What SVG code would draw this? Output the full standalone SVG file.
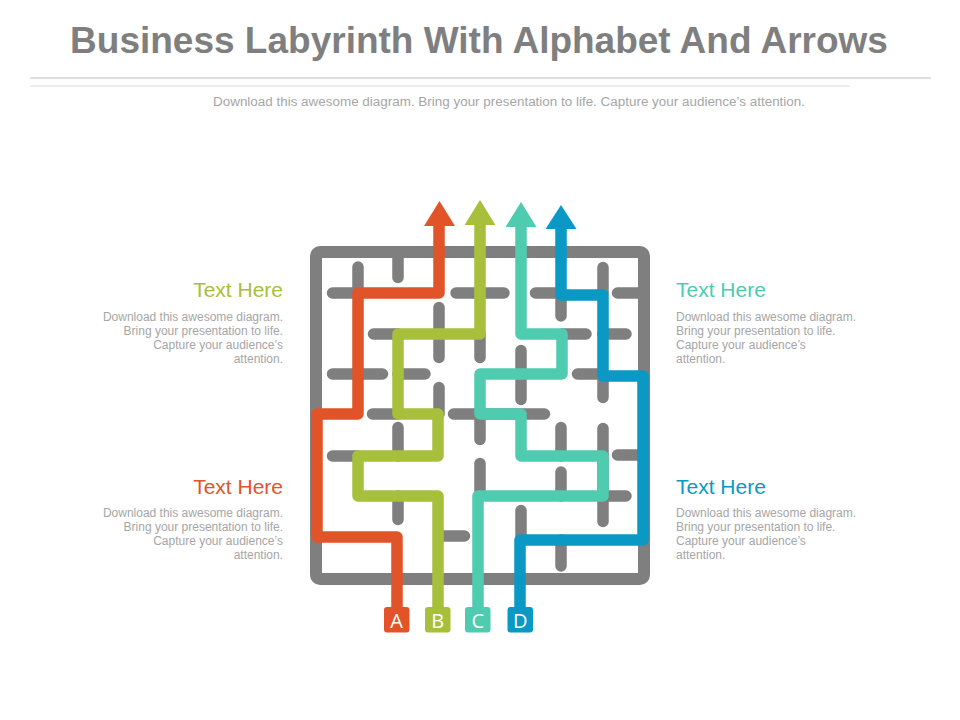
<svg xmlns="http://www.w3.org/2000/svg" width="960" height="720" viewBox="0 0 960 720">
<style>
.wall{stroke:#7F7F7F;stroke-width:11.5;stroke-linecap:round;fill:none}
.frame{stroke:#7F7F7F;stroke-width:12;fill:none}
.route{stroke-width:11.5;fill:none;stroke-linejoin:round;stroke-linecap:butt}
.red{stroke:#E1542A}.grn{stroke:#A7C03C}.tea{stroke:#4FCBB0}.blu{stroke:#0A98C5}
.fred{fill:#E1542A}.fgrn{fill:#A7C03C}.ftea{fill:#4FCBB0}.fblu{fill:#0A98C5}
.title{font-family:"Liberation Sans",Arial,sans-serif;font-weight:bold;font-size:37px;fill:#7F7F7F}
.sub{font-family:"Liberation Sans",Arial,sans-serif;font-size:12px;fill:#A6A6A6}
.head{font-family:"Liberation Sans",Arial,sans-serif;font-size:21px}
.body{font-family:"Liberation Sans",Arial,sans-serif;font-size:12px;fill:#A6A6A6}
.lbl{font-family:"Open Sans","Liberation Sans",sans-serif;font-size:20px;fill:#FFFFFF;text-anchor:middle}
</style>
<rect width="960" height="720" fill="#FFFFFF"/>
<g id="header">
<text class="title" x="479" y="53" text-anchor="middle">Business Labyrinth With Alphabet And Arrows</text>
<line x1="30" y1="78" x2="931" y2="78" stroke="#BFBFBF" stroke-width="1"/>
<line x1="30" y1="86" x2="850" y2="86" stroke="#D9D9D9" stroke-width="1"/>
<text class="sub" x="509" y="106" text-anchor="middle" textLength="592" lengthAdjust="spacingAndGlyphs">Download this awesome diagram. Bring your presentation to life.  Capture your audience’s attention.</text>
</g>
<g id="maze">
<rect class="frame" x="316" y="252" width="328" height="327" rx="4"/>
<line class="wall" x1="358" y1="267" x2="358" y2="293"/>
<line class="wall" x1="398" y1="252" x2="398" y2="277.5"/>
<line class="wall" x1="332.5" y1="293" x2="358" y2="293"/>
<line class="wall" x1="456" y1="293" x2="504" y2="293"/>
<line class="wall" x1="439" y1="307.5" x2="439" y2="357.5"/>
<line class="wall" x1="373.5" y1="334" x2="398" y2="334"/>
<line class="wall" x1="332.5" y1="374" x2="382.5" y2="374"/>
<line class="wall" x1="398" y1="374" x2="425" y2="374"/>
<line class="wall" x1="439" y1="387.5" x2="439" y2="414"/>
<line class="wall" x1="480" y1="334" x2="480" y2="357.5"/>
<line class="wall" x1="372.5" y1="414" x2="398" y2="414"/>
<line class="wall" x1="453.5" y1="414" x2="544.5" y2="414"/>
<line class="wall" x1="398" y1="427.5" x2="398" y2="456"/>
<line class="wall" x1="332.5" y1="456" x2="358" y2="456"/>
<line class="wall" x1="398" y1="496" x2="398" y2="519.5"/>
<line class="wall" x1="439" y1="536" x2="464.5" y2="536"/>
<line class="wall" x1="480" y1="463.5" x2="480" y2="496"/>
<line class="wall" x1="480" y1="414" x2="480" y2="439.5"/>
<line class="wall" x1="535.5" y1="293" x2="561" y2="293"/>
<line class="wall" x1="561" y1="293" x2="561" y2="316"/>
<line class="wall" x1="603" y1="267.5" x2="603" y2="293"/>
<line class="wall" x1="617.5" y1="293" x2="644" y2="293"/>
<line class="wall" x1="562" y1="334" x2="586" y2="334"/>
<line class="wall" x1="603" y1="334" x2="626" y2="334"/>
<line class="wall" x1="521" y1="350.5" x2="521" y2="399.5"/>
<line class="wall" x1="577.5" y1="374" x2="603" y2="374"/>
<line class="wall" x1="603" y1="374" x2="603" y2="397.5"/>
<line class="wall" x1="561" y1="427.5" x2="561" y2="456"/>
<line class="wall" x1="561" y1="472" x2="561" y2="496"/>
<line class="wall" x1="561" y1="540" x2="561" y2="566"/>
<line class="wall" x1="603" y1="428.5" x2="603" y2="521.5"/>
<line class="wall" x1="617.5" y1="455" x2="644" y2="455"/>
<line class="wall" x1="603" y1="496" x2="626" y2="496"/>
<line class="wall" x1="521" y1="510.5" x2="521" y2="540"/>
</g>
<g id="connectors">
<path class="route red" d="M397 610 V537 H317 V414 H358 V293 H439 V222"/>
<path class="route grn" d="M438 610 V496 H358 V456 H438 V414 H398 V334 H480 V221"/>
<path class="route tea" d="M478 610 V496 H603 V456 H521 V414 H480 V374 H562 V334 H521 V223"/>
<path class="route blu" d="M520 610 V540 H643 V376 H603 V295 H561 V225"/>
<polygon class="fred" points="424,226 455,226 439.5,201"/>
<polygon class="fgrn" points="464.5,225 495.5,225 480,200"/>
<polygon class="ftea" points="505.5,227 536.5,227 521,202"/>
<polygon class="fblu" points="545.5,229 576.5,229 561,205"/>
</g>
<g id="label-a"><rect class="fred" x="384" y="607" width="25.5" height="25.5" rx="3"/><text class="lbl" x="396.7" y="627.5">A</text></g>
<g id="label-b"><rect class="fgrn" x="425" y="607" width="25.5" height="25.5" rx="3"/><text class="lbl" x="437.7" y="627.5">B</text></g>
<g id="label-c"><rect class="ftea" x="465" y="607" width="25.5" height="25.5" rx="3"/><text class="lbl" x="477.7" y="627.5">C</text></g>
<g id="label-d"><rect class="fblu" x="507.5" y="607" width="25.5" height="25.5" rx="3"/><text class="lbl" x="520.2" y="627.5">D</text></g>
<g id="text-top-left" text-anchor="end">
<text class="head" x="283" y="297" fill="#A7C03C">Text Here</text>
<text class="body" x="283" y="321">Download this awesome diagram.</text>
<text class="body" x="283" y="335">Bring your presentation to life.</text>
<text class="body" x="283" y="349">Capture your audience’s</text>
<text class="body" x="283" y="363">attention.</text>
</g>
<g id="text-bottom-left" text-anchor="end">
<text class="head" x="283" y="494" fill="#E1542A">Text Here</text>
<text class="body" x="283" y="517">Download this awesome diagram.</text>
<text class="body" x="283" y="531">Bring your presentation to life.</text>
<text class="body" x="283" y="545">Capture your audience’s</text>
<text class="body" x="283" y="559">attention.</text>
</g>
<g id="text-top-right">
<text class="head" x="676" y="297" fill="#4FCBB0">Text Here</text>
<text class="body" x="676" y="321">Download this awesome diagram.</text>
<text class="body" x="676" y="335">Bring your presentation to life.</text>
<text class="body" x="676" y="349">Capture your audience’s</text>
<text class="body" x="676" y="363">attention.</text>
</g>
<g id="text-bottom-right">
<text class="head" x="676" y="494" fill="#0A98C5">Text Here</text>
<text class="body" x="676" y="517">Download this awesome diagram.</text>
<text class="body" x="676" y="531">Bring your presentation to life.</text>
<text class="body" x="676" y="545">Capture your audience’s</text>
<text class="body" x="676" y="559">attention.</text>
</g>
</svg>
